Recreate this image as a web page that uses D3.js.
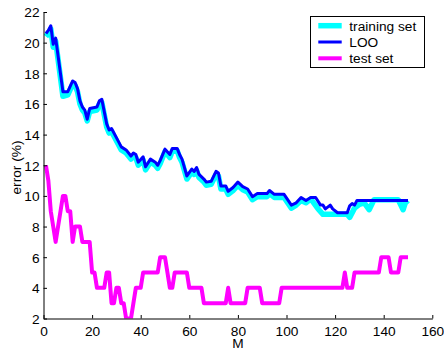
<html>

<head>
  <meta charset="UTF-8">
  <title>error vs M</title>
  <script src="https://d3js.org/d3.v7.min.js"></script>
  <style>
    body {
      margin: 0;
      background-color: white;
    }
    text {
      font-family: "Liberation Sans", Arial, Helvetica, sans-serif;
      font-size: 13.7px;
      fill: black;
    }
  </style>
</head>

<body>
  <svg></svg>
</body>

<script>
  // values
  let looM = [1, 2, 3, 4, 5, 8, 10, 12, 13, 14, 15, 16, 17, 18, 19, 22, 23, 24, 26, 27, 28, 30, 32, 34, 36, 37, 38, 39, 41, 42,
    44, 46, 47, 48, 50, 52, 53, 55, 56, 57, 59, 61, 62, 63, 64, 66, 67, 69, 71, 72, 73, 75, 76, 78, 80, 82, 84, 86, 88, 92,
    93, 95, 99, 102, 104, 106, 108, 110, 112, 114, 115, 116, 118, 119, 121, 125, 126, 127, 128, 129, 150];
  let looErr = [20.6, 20.8, 21.1, 19.9, 20.3, 16.8, 16.8, 17.5, 17.4, 17.0, 16.2, 15.8, 15.6, 15.0, 15.7, 15.8, 16.2, 16.3, 14.7, 14.3,
    14.4, 13.8, 13.2, 13.0, 12.6, 12.8, 12.7, 12.2, 12.55, 11.9, 12.4, 12.2, 12.0, 12.3, 13.05, 12.7, 13.1, 13.1, 12.7, 12.4,
    11.3, 11.75, 11.6, 11.85, 11.4, 11.1, 10.9, 10.95, 11.6, 11.5, 10.65, 10.65, 10.3, 10.55, 10.9, 10.6, 10.45, 9.95, 10.15, 10.15,
    10.35, 10.1, 10.1, 9.4, 9.55, 9.9, 9.7, 9.9, 9.9, 9.4, 9.4, 9.15, 9.4, 9.15, 8.9, 8.9, 9.35, 9.5, 9.4, 9.7, 9.7];

  let trainM = [1, 2, 3, 4, 5, 8, 10, 12, 13, 14, 15, 16, 17, 18, 19, 22, 23, 24, 26, 27, 28, 30, 32, 34, 36, 37, 38, 39, 41, 42,
    44, 46, 47, 48, 50, 52, 53, 55, 56, 57, 59, 61, 62, 63, 64, 66, 67, 69, 71, 72, 73, 75, 76, 78, 80, 82, 84, 86, 88, 92,
    93, 95, 99, 102, 104, 106, 108, 110, 113, 115, 125, 126, 128, 130, 132, 134, 136, 146, 148, 149, 150];
  let trainErr = [20.4, 20.6, 20.9, 19.7, 20.1, 16.5, 16.6, 17.3, 17.2, 16.8, 16.0, 15.6, 15.4, 14.9, 15.5, 15.6, 16.0, 16.1, 14.5, 14.1,
    14.2, 13.6, 13.0, 12.8, 12.4, 12.6, 12.5, 12.0, 12.35, 11.7, 12.2, 12.0, 11.8, 12.1, 12.9, 12.5, 12.9, 12.95, 12.5, 12.2,
    11.1, 11.55, 11.4, 11.65, 11.2, 10.9, 10.7, 10.75, 11.4, 11.3, 10.45, 10.45, 10.1, 10.35, 10.7, 10.4, 10.25, 9.75, 9.95, 9.95,
    10.15, 9.9, 9.9, 9.2, 9.4, 9.7, 9.55, 9.8, 9.15, 8.8, 8.8, 8.6, 9.2, 9.45, 9.55, 9.1, 9.75, 9.75, 9.1, 9.6, 9.45];

  // test set error for M = 1 .. 150
  let testErr = [12, 11, 9, 8, 7, 8, 9, 10, 10, 9,
    9, 7, 8, 8, 8, 7, 7, 7, 7, 5,
    5, 4, 4, 4, 4, 5, 5, 3, 3, 4,
    4, 3, 3, 2, 2, 2, 3, 4, 4, 4,
    5, 5, 5, 5, 5, 5, 5, 6, 6, 6,
    5, 4, 4, 5, 5, 5, 5, 5, 5, 4,
    4, 4, 4, 4, 4, 3, 3, 3, 3, 3,
    3, 3, 3, 3, 3, 4, 3, 3, 3, 3,
    3, 3, 3, 4, 4, 4, 4, 4, 4, 3,
    3, 3, 3, 3, 3, 3, 3, 4, 4, 4,
    4, 4, 4, 4, 4, 4, 4, 4, 4, 4,
    4, 4, 4, 4, 4, 4, 4, 4, 4, 4,
    4, 4, 4, 5, 4, 4, 4, 5, 5, 5,
    5, 5, 5, 5, 5, 5, 5, 5, 6, 6,
    6, 6, 5, 5, 5, 5, 6, 6, 6, 6];
  let testM = d3.range(1, testErr.length + 1);

  let xTicks = [0, 20, 40, 60, 80, 100, 120, 140, 160];
  let yTicks = [2, 4, 6, 8, 10, 12, 14, 16, 18, 20, 22];
  let legendLabels = ["training set", "LOO", "test set"];
  let legendColors = ["#00ffff", "#0000ff", "#ff00ff"];
  let legendWidths = [5.5, 3, 4];

  let width = 444,
    height = 349;
  let plotLeft = 43.5, plotRight = 432.3, plotTop = 12, plotBottom = 318.5;

  let svg = d3.select("svg")
    .attr("width", width)
    .attr("height", height)
    .attr("viewBox", "0 0 " + width + " " + height);

  let x = d3.scaleLinear().domain([0, 160]).range([plotLeft, plotRight]);
  let y = d3.scaleLinear().domain([2, 22]).range([plotBottom, plotTop]);

  svg.append("clipPath")
    .attr("id", "plotclip")
    .append("rect")
    .attr("x", plotLeft)
    .attr("y", plotTop - 4)
    .attr("width", plotRight - plotLeft)
    .attr("height", plotBottom - plotTop + 4);

  let line = d3.line()
    .x(d => x(d[0]))
    .y(d => y(d[1]));

  let series = [
    { pts: d3.zip(trainM, trainErr), color: legendColors[0], w: legendWidths[0] },
    { pts: d3.zip(looM, looErr), color: legendColors[1], w: legendWidths[1] },
    { pts: d3.zip(testM, testErr), color: legendColors[2], w: legendWidths[2] }
  ];

  svg.append("g")
    .attr("clip-path", "url(#plotclip)")
    .selectAll("path")
    .data(series)
    .enter()
    .append("path")
    .attr("d", d => line(d.pts))
    .attr("fill", "none")
    .attr("stroke", d => d.color)
    .attr("stroke-width", d => d.w)
    .attr("stroke-linejoin", "round");

  // axes, ticks pointing inward
  let xAxis = svg.append("g")
    .attr("transform", "translate(0," + plotBottom + ")")
    .call(d3.axisBottom(x).tickValues(xTicks).tickSizeInner(-3.5).tickSizeOuter(0).tickPadding(8));

  let yAxis = svg.append("g")
    .attr("transform", "translate(" + plotLeft + ",0)")
    .call(d3.axisLeft(y).tickValues(yTicks).tickSizeInner(-3.5).tickSizeOuter(0).tickPadding(4));

  [xAxis, yAxis].forEach(a => {
    a.selectAll("path, line").attr("stroke", "black").attr("stroke-width", 1);
    a.selectAll("text")
      .attr("font-family", null)
      .attr("font-size", null)
      .attr("fill", "black");
  });
  yAxis.selectAll("text").attr("dy", "0.36em");

  svg.append("text")
    .attr("x", (plotLeft + plotRight) / 2)
    .attr("y", 347.5)
    .attr("text-anchor", "middle")
    .text("M");

  svg.append("text")
    .attr("transform", "translate(20.7," + 167.5 + ") rotate(-90)")
    .attr("text-anchor", "middle")
    .text("error (%)");

  // legend
  let legend = svg.append("g");
  legend.append("rect")
    .attr("x", 310.5)
    .attr("y", 16.5)
    .attr("width", 114)
    .attr("height", 51)
    .attr("fill", "white")
    .attr("stroke", "black")
    .attr("stroke-width", 1);

  let items = legend.selectAll("g.item")
    .data(legendLabels)
    .enter()
    .append("g")
    .attr("class", "item")
    .attr("transform", (d, i) => "translate(0," + (25.7 + i * 16.3) + ")");

  items.append("line")
    .attr("x1", 318.3)
    .attr("x2", 341.7)
    .attr("stroke", (d, i) => legendColors[i])
    .attr("stroke-width", (d, i) => legendWidths[i]);

  items.append("text")
    .attr("x", 349.3)
    .attr("y", 5)
    .text(d => d);
</script>
</html>
